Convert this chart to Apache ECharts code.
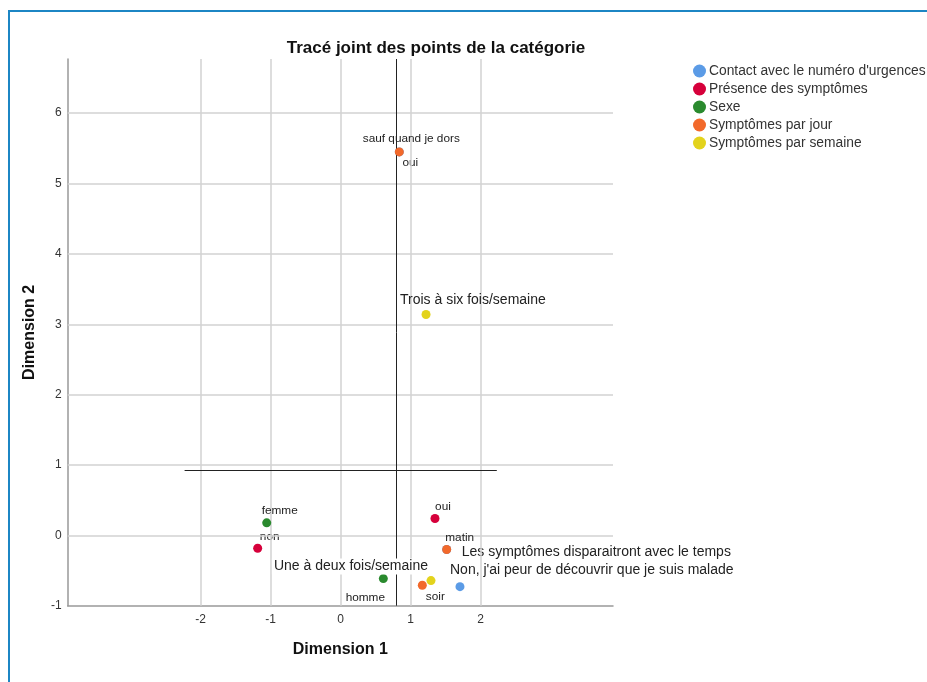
<!doctype html>
<html>
<head>
<meta charset="UTF-8">
<title>Tracé joint des points de la catégorie</title>
<script src="https://cdn.jsdelivr.net/npm/echarts@6/dist/echarts.min.js"></script>
<style>
	html, body { margin: 0; padding: 0; background: #fff; }
	#main { width: 927px; height: 682px; }
</style>
</head>
<body>
<div id="main"></div>
<script>
// ---- données ----
var seriesNames = ['Contact avec le numéro d\'urgences', 'Présence des symptômes', 'Sexe', 'Symptômes par jour', 'Symptômes par semaine'];

var contactLabels = ['oui', 'Les symptômes disparaitront avec le temps', 'Non, j\'ai peur de découvrir que je suis malade'];
var contactX = [0.837, 1.514, 1.704];
var contactY = [5.45, -0.202, -0.729];

var presenceLabels = ['oui', 'non'];
var presenceX = [1.347, -1.186];
var presenceY = [0.239, -0.184];

var sexeLabels = ['femme', 'homme'];
var sexeX = [-1.057, 0.609];
var sexeY = [0.178, -0.615];

var jourLabels = ['sauf quand je dors', 'matin', 'soir'];
var jourX = [0.837, 1.514, 1.166];
var jourY = [5.45, -0.202, -0.71];

var semaineLabels = ['Trois à six fois/semaine', 'Une à deux fois/semaine'];
var semaineX = [1.219, 1.29];
var semaineY = [3.139, -0.643];

var xTicks = [-2, -1, 0, 1, 2];
var yTicks = [-1, 0, 1, 2, 3, 4, 5, 6];

// lignes de référence (origine du tracé)
var refX = 0.80;
var refY = 0.92;
var refXSpan = [-2.23, 2.23];

// ---- styles ----
var colors = ['#5b9be6', '#d6003b', '#2a8a2e', '#f2692b', '#e3d31c'];
var FONT = 'Arial, "Liberation Sans", sans-serif';

// décalage des étiquettes (par rapport au centre du point)
var labelStyle = {
	'oui|0': { offset: [11, 11], size: 11.8 },
	'Les symptômes disparaitront avec le temps': { offset: [13, 3], size: 14, align: 'left', bg: true },
	'Non, j\'ai peur de découvrir que je suis malade': { offset: [-12, -16], size: 14, align: 'left', bg: true },
	'oui|1': { offset: [8, -12], size: 11.8 },
	'non': { offset: [12, -12], size: 11.8 },
	'femme': { offset: [13, -12], size: 11.8 },
	'homme': { offset: [-18, 19], size: 11.8, bg: true },
	'sauf quand je dors': { offset: [12, -13], size: 11.8 },
	'matin': { offset: [13, -12], size: 11.8 },
	'soir': { offset: [13, 11], size: 11.8 },
	'Trois à six fois/semaine': { offset: [-26, -14], size: 14, align: 'left' },
	'Une à deux fois/semaine': { offset: [-1, -14], size: 14, align: 'right', bg: true }
};

function buildPoints(labels, xs, ys, idx) {
	var out = [];
	for (var i = 0; i < labels.length; i++) {
		var st = labelStyle[labels[i] + '|' + idx] || labelStyle[labels[i]];
		out.push({
			value: [xs[i], ys[i]],
			name: labels[i],
			label: {
				show: true,
				position: 'inside',
				formatter: labels[i],
				offset: st.offset,
				align: st.align || 'center',
				verticalAlign: 'middle',
				fontSize: st.size,
				fontFamily: FONT,
				color: '#222',
				backgroundColor: st.bg ? '#fff' : 'transparent',
				padding: st.bg ? [1, 2] : 0
			}
		});
	}
	return out;
}

var groups = [
	buildPoints(contactLabels, contactX, contactY, 0),
	buildPoints(presenceLabels, presenceX, presenceY, 1),
	buildPoints(sexeLabels, sexeX, sexeY, 2),
	buildPoints(jourLabels, jourX, jourY, 3),
	buildPoints(semaineLabels, semaineX, semaineY, 4)
];

var gridLines = [];
xTicks.forEach(function (v) { gridLines.push({ xAxis: v }); });
yTicks.forEach(function (v) { if (v !== -1) gridLines.push({ yAxis: v }); });

var series = [{
	type: 'scatter',
	name: '_grid',
	data: [],
	z: 1,
	silent: true,
	markLine: {
		silent: true,
		symbol: 'none',
		label: { show: false },
		lineStyle: { color: '#d2d2d2', width: 1.5, type: 'solid' },
		data: gridLines
	}
}, {
	type: 'scatter',
	name: '_ref',
	data: [],
	z: 2,
	silent: true,
	markLine: {
		silent: true,
		symbol: 'none',
		label: { show: false },
		lineStyle: { color: '#222', width: 1, type: 'solid' },
		data: [
			{ xAxis: refX },
			[{ coord: [refXSpan[0], refY] }, { coord: [refXSpan[1], refY] }]
		]
	}
}];

for (var s = 0; s < seriesNames.length; s++) {
	series.push({
		type: 'scatter',
		name: seriesNames[s],
		data: groups[s],
		symbol: 'circle',
		symbolSize: 9,
		z: 3 + s,
		itemStyle: { color: colors[s], opacity: 1 },
		emphasis: { disabled: true }
	});
}

var chart = echarts.init(document.getElementById('main'));
var option = {
	animation: false,
	backgroundColor: '#fff',
	textStyle: { fontFamily: FONT },
	title: {
		text: 'Tracé joint des points de la catégorie',
		left: 431,
		top: 35,
		textAlign: 'center',
		textStyle: { fontSize: 17, fontWeight: 'bold', color: '#111', fontFamily: FONT }
	},
	legend: {
		data: seriesNames,
		orient: 'vertical',
		left: 688,
		top: 59,
		itemGap: 4,
		itemWidth: 13,
		itemHeight: 13,
		icon: 'circle',
		textStyle: { fontSize: 13.8, color: '#333', padding: [0, 0, 0, -2] },
		selectedMode: false
	},
	grid: { left: 67.7, top: 59, width: 545.3, height: 546.7, containLabel: false },
	xAxis: {
		type: 'value',
		min: -3.9,
		max: 3.89,
		name: 'Dimension 1',
		nameLocation: 'middle',
		nameGap: 36,
		nameTextStyle: { fontSize: 16, fontWeight: 'bold', color: '#111' },
		axisLine: { show: true, onZero: false, lineStyle: { color: '#999', width: 1.5 } },
		axisTick: { show: false },
		splitLine: { show: false },
		axisLabel: { customValues: xTicks, fontSize: 12, color: '#333', margin: 8 }
	},
	yAxis: {
		type: 'value',
		min: -1,
		max: 6.77,
		name: 'Dimension 2',
		nameLocation: 'middle',
		nameGap: 30,
		nameRotate: 90,
		nameTextStyle: { fontSize: 16, fontWeight: 'bold', color: '#111' },
		axisLine: { show: true, onZero: false, lineStyle: { color: '#999', width: 1.5 } },
		axisTick: { show: false },
		splitLine: { show: false },
		axisLabel: { customValues: yTicks, fontSize: 12, color: '#333', margin: 6 }
	},
	graphic: [{
		type: 'polyline',
		shape: { points: [[9, 682], [9, 11], [927, 11]] },
		style: { stroke: '#1c86c4', lineWidth: 2, fill: null },
		silent: true
	}],
	series: series
};
chart.setOption(option);
</script>
</body>
</html>
